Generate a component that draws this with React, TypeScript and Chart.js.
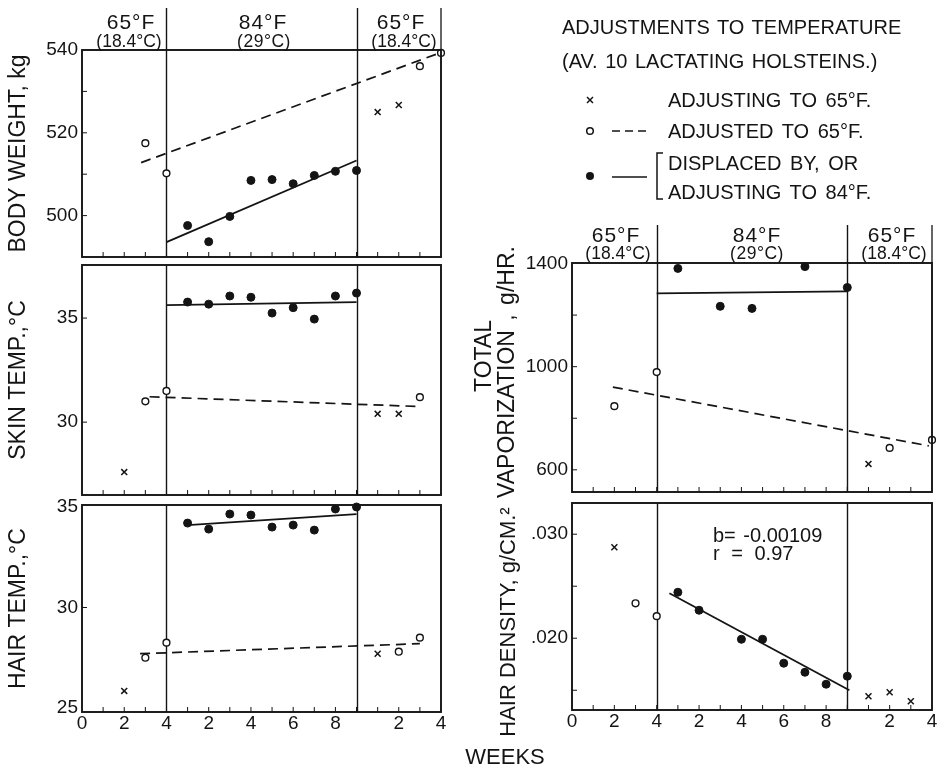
import React, { useEffect, useRef } from 'react';
import { Chart, registerables } from 'chart.js';

Chart.register(...registerables);

const FONT = '"Liberation Sans", Arial, sans-serif';
const INK = '#141414';

// ---- shared week axis ----
const weekTickValues = [0, 2, 4, 6, 8, 10, 12, 15, 17];
const weekTickLabels = ['0', '2', '4', '2', '4', '6', '8', '2', '4'];
const weekMarks = [1, 2, 3, 4, 5, 6, 7, 8, 9, 10, 11, 12, 13, 14, 15, 16];
const periodBounds = [4, 13];

// ---- body weight, kg ----
const bodyWeightCrossWeeks = [14, 15];
const bodyWeightCross = [525.0, 526.7];
const bodyWeightOpenWeeks = [3, 4, 16, 17];
const bodyWeightOpen = [517.5, 510.2, 536.1, 539.3];
const bodyWeightFilledWeeks = [5, 6, 7, 8, 9, 10, 11, 12, 13];
const bodyWeightFilled = [497.6, 493.7, 499.8, 508.5, 508.7, 507.7, 509.7, 510.7, 510.9];
const bodyWeightDashedWeeks = [2.8, 17];
const bodyWeightDashed = [512.8, 539.4];
const bodyWeightSolidWeeks = [4, 13];
const bodyWeightSolid = [493.6, 513.3];
const bodyWeightTicks = [500, 520, 540];
const bodyWeightTickLabels = ['500', '520', '540'];
const bodyWeightMinor = [500, 510, 520, 530];

// ---- skin temp, °C ----
const skinCrossWeeks = [2, 14, 15];
const skinCross = [27.6, 30.4, 30.4];
const skinOpenWeeks = [3, 4, 16];
const skinOpen = [31.0, 31.5, 31.2];
const skinFilledWeeks = [5, 6, 7, 8, 9, 10, 11, 12, 13];
const skinFilled = [35.77, 35.67, 36.06, 36.0, 35.24, 35.5, 34.95, 36.06, 36.2];
const skinDashedWeeks = [3.2, 16];
const skinDashed = [31.22, 30.75];
const skinSolidWeeks = [4, 13];
const skinSolid = [35.62, 35.77];
const skinTicks = [30, 35];
const skinTickLabels = ['30', '35'];
const skinMinor = [30, 35];

// ---- hair temp, °C ----
const hairCrossWeeks = [2, 14];
const hairCross = [25.85, 27.7];
const hairOpenWeeks = [3, 4, 15, 16];
const hairOpen = [27.5, 28.25, 27.8, 28.5];
const hairFilledWeeks = [5, 6, 7, 8, 9, 10, 11, 12, 13];
const hairFilled = [34.2, 33.9, 34.65, 34.6, 34.0, 34.1, 33.85, 34.9, 35.0];
const hairDashedWeeks = [2.75, 16];
const hairDashed = [27.7, 28.2];
const hairSolidWeeks = [5, 13];
const hairSolid = [34.1, 34.65];
const hairTicks = [25, 30, 35];
const hairTickLabels = ['25', '30', '35'];
const hairMinor = [30];

// ---- total vaporization, g/hr ----
const vapCrossWeeks = [14];
const vapCross = [623];
const vapOpenWeeks = [2, 4, 15, 17];
const vapOpen = [847, 979, 685, 716];
const vapFilledWeeks = [5, 7, 8.5, 11, 13];
const vapFilled = [1381, 1234, 1226, 1388, 1307];
const vapDashedWeeks = [1.93, 16.85];
const vapDashed = [921, 693];
const vapSolidWeeks = [4, 13];
const vapSolid = [1284, 1292];
const vapTicks = [600, 1000, 1400];
const vapTickLabels = ['600', '1000', '1400'];
const vapMinor = [600, 800, 1000, 1200];

// ---- hair density, g/cm² ----
const densCrossWeeks = [2, 14, 15, 16];
const densCross = [0.02875, 0.01442, 0.01481, 0.01394];
const densOpenWeeks = [3, 4];
const densOpen = [0.02336, 0.02212];
const densFilledWeeks = [5, 6, 8, 9, 10, 11, 12, 13];
const densFilled = [0.02442, 0.02269, 0.0199, 0.0199, 0.0176, 0.01673, 0.01558, 0.01635];
const densSolidWeeks = [4.6, 13.1];
const densSolid = [0.02433, 0.015];
const densTicks = [0.02, 0.03];
const densTickLabels = ['.020', '.030'];
const densMinor = [0.015, 0.02, 0.025, 0.03];

type Panel = {
  left: number; right: number; top: number; bottom: number; axisW: number;
  yMin: number; yMax: number; yTicks: number[]; yLabels: string[]; yMinor: number[];
  title?: string; showX: boolean; headerExt: number;
  cross: [number[], number[]]; open: [number[], number[]]; filled: [number[], number[]];
  dashed?: [number[], number[]]; solid?: [number[], number[]];
};

const panels: Panel[] = [
  {
    left: 82, right: 441, top: 50, bottom: 257, axisW: 82, yMin: 490, yMax: 540,
    yTicks: bodyWeightTicks, yLabels: bodyWeightTickLabels, yMinor: bodyWeightMinor,
    title: 'BODY WEIGHT, kg', showX: false, headerExt: 42,
    cross: [bodyWeightCrossWeeks, bodyWeightCross], open: [bodyWeightOpenWeeks, bodyWeightOpen],
    filled: [bodyWeightFilledWeeks, bodyWeightFilled], dashed: [bodyWeightDashedWeeks, bodyWeightDashed],
    solid: [bodyWeightSolidWeeks, bodyWeightSolid],
  },
  {
    left: 82, right: 441, top: 265, bottom: 495, axisW: 82, yMin: 26.5, yMax: 37.55,
    yTicks: skinTicks, yLabels: skinTickLabels, yMinor: skinMinor,
    title: 'SKIN TEMP.,°C', showX: false, headerExt: 0,
    cross: [skinCrossWeeks, skinCross], open: [skinOpenWeeks, skinOpen],
    filled: [skinFilledWeeks, skinFilled], dashed: [skinDashedWeeks, skinDashed],
    solid: [skinSolidWeeks, skinSolid],
  },
  {
    left: 82, right: 441, top: 505, bottom: 712, axisW: 82, yMin: 24.8, yMax: 35.1,
    yTicks: hairTicks, yLabels: hairTickLabels, yMinor: hairMinor,
    title: 'HAIR TEMP.,°C', showX: true, headerExt: 0,
    cross: [hairCrossWeeks, hairCross], open: [hairOpenWeeks, hairOpen],
    filled: [hairFilledWeeks, hairFilled], dashed: [hairDashedWeeks, hairDashed],
    solid: [hairSolidWeeks, hairSolid],
  },
  {
    left: 572, right: 932, top: 263, bottom: 492, axisW: 60, yMin: 514, yMax: 1402,
    yTicks: vapTicks, yLabels: vapTickLabels, yMinor: vapMinor,
    showX: false, headerExt: 38,
    cross: [vapCrossWeeks, vapCross], open: [vapOpenWeeks, vapOpen],
    filled: [vapFilledWeeks, vapFilled], dashed: [vapDashedWeeks, vapDashed],
    solid: [vapSolidWeeks, vapSolid],
  },
  {
    left: 572, right: 932, top: 503, bottom: 710, axisW: 60, yMin: 0.0131, yMax: 0.033,
    yTicks: densTicks, yLabels: densTickLabels, yMinor: densMinor,
    showX: true, headerExt: 0,
    cross: [densCrossWeeks, densCross], open: [densOpenWeeks, densOpen],
    filled: [densFilledWeeks, densFilled], solid: [densSolidWeeks, densSolid],
  },
];

const framePlugin = {
  id: 'frame',
  beforeDatasetsDraw(chart: any, _a: any, opts: any) {
    const { ctx, chartArea: a, scales } = chart;
    const x = scales.x;
    ctx.save();
    ctx.strokeStyle = INK;
    ctx.lineWidth = 1.4;
    for (const w of periodBounds) {
      const px = Math.round(x.getPixelForValue(w)) + 0.5;
      ctx.beginPath();
      ctx.moveTo(px, a.bottom);
      ctx.lineTo(px, a.top - (opts.headerExt || 0));
      ctx.stroke();
    }
    ctx.restore();
  },
  afterDatasetsDraw(chart: any, _a: any, opts: any) {
    const { ctx, chartArea: a, scales } = chart;
    const x = scales.x;
    const y = scales.y;
    ctx.save();
    ctx.strokeStyle = INK;
    ctx.lineWidth = 1.9;
    ctx.strokeRect(a.left, a.top, a.right - a.left, a.bottom - a.top);
    if (opts.headerExt) {
      ctx.lineWidth = 1.3;
      ctx.beginPath();
      ctx.moveTo(a.right, a.top);
      ctx.lineTo(a.right, a.top - opts.headerExt);
      ctx.stroke();
    }
    ctx.lineWidth = 1;
    for (const w of weekMarks) {
      const px = x.getPixelForValue(w);
      ctx.beginPath();
      ctx.moveTo(px, a.bottom);
      ctx.lineTo(px, a.bottom - 5);
      ctx.stroke();
    }
    for (const v of opts.yMinor || []) {
      const py = y.getPixelForValue(v);
      ctx.beginPath();
      ctx.moveTo(a.left, py);
      ctx.lineTo(a.left + 5, py);
      ctx.stroke();
    }
    ctx.restore();
  },
};

function pts(xs: number[], ys: number[]) {
  return xs.map((x, i) => ({ x, y: ys[i] }));
}

function buildConfig(p: Panel): any {
  const datasets: any[] = [
    {
      label: 'adjusting to 65°F', data: pts(p.cross[0], p.cross[1]),
      pointStyle: 'crossRot', pointRadius: 4.2, borderColor: INK, borderWidth: 1.5, backgroundColor: INK, showLine: false, clip: false,
    },
    {
      label: 'adjusted to 65°F', data: pts(p.open[0], p.open[1]),
      pointStyle: 'circle', pointRadius: 3.4, borderColor: INK, borderWidth: 1.4, backgroundColor: '#ffffff', showLine: false, clip: false,
    },
    {
      label: 'displaced by, or adjusting to 84°F', data: pts(p.filled[0], p.filled[1]),
      pointStyle: 'circle', pointRadius: 4, borderColor: INK, borderWidth: 1, backgroundColor: INK, showLine: false, clip: false,
    },
  ];
  if (p.dashed) {
    datasets.push({
      label: 'trend 65°F', data: pts(p.dashed[0], p.dashed[1]), showLine: true, pointRadius: 0,
      borderColor: INK, borderWidth: 1.7, borderDash: [10, 6], clip: false,
    });
  }
  if (p.solid) {
    datasets.push({
      label: 'trend 84°F', data: pts(p.solid[0], p.solid[1]), showLine: true, pointRadius: 0,
      borderColor: INK, borderWidth: 1.8, clip: false,
    });
  }
  const xH = p.showX ? 30 : 0;
  return {
    type: 'scatter',
    data: { datasets },
    options: {
      animation: false,
      responsive: false,
      maintainAspectRatio: false,
      devicePixelRatio: 1,
      events: [],
      layout: {
        padding: { left: p.left - p.axisW, right: 945 - p.right, top: p.top, bottom: 773 - p.bottom - xH },
      },
      plugins: {
        legend: { display: false },
        tooltip: { enabled: false },
        frame: { headerExt: p.headerExt, yMinor: p.yMinor },
      },
      scales: {
        x: {
          type: 'linear', min: 0, max: 17,
          afterBuildTicks: (s: any) => { s.ticks = weekTickValues.map((v) => ({ value: v })); },
          afterFit: (s: any) => { s.height = xH; },
          ticks: {
            display: p.showX, autoSkip: false, maxRotation: 0, minRotation: 0, padding: 0,
            color: INK, font: { family: FONT, size: 19 },
            callback: (_v: any, i: number) => weekTickLabels[i],
          },
          grid: { display: false, drawTicks: false },
          border: { display: false },
        },
        y: {
          type: 'linear', min: p.yMin, max: p.yMax,
          afterBuildTicks: (s: any) => { s.ticks = p.yTicks.map((v) => ({ value: v })); },
          afterFit: (s: any) => { s.width = p.axisW; },
          ticks: {
            padding: 4, color: INK, font: { family: FONT, size: 19 },
            callback: (_v: any, i: number) => p.yLabels[i],
          },
          grid: { display: false, drawTicks: false },
          border: { display: false },
          title: p.title
            ? { display: true, text: p.title, color: INK, font: { family: FONT, size: 23 }, padding: { top: 5, bottom: 0 } }
            : { display: false },
        },
      },
    },
    plugins: [framePlugin],
  };
}

function PanelCanvas({ p }: { p: Panel }) {
  const ref = useRef<HTMLCanvasElement | null>(null);
  useEffect(() => {
    const chart = new Chart(ref.current as HTMLCanvasElement, buildConfig(p));
    return () => chart.destroy();
  }, [p]);
  return (
    <canvas
      ref={ref}
      width={945}
      height={773}
      style={{ position: 'absolute', left: 0, top: 0, width: 945, height: 773 }}
    />
  );
}

function Txt(props: { x: number; y: number; size?: number; align?: string; rot?: boolean; ws?: number; ls?: number; children: any }) {
  const { x, y, size = 20, align = 'left', rot = false, ws = 0, ls = 0, children } = props;
  const tx = align === 'left' ? '0' : align === 'center' ? '-50%' : '-100%';
  return (
    <div
      style={{
        position: 'absolute', left: x, top: y, fontFamily: FONT, fontSize: size, lineHeight: 1,
        color: INK, whiteSpace: 'nowrap', wordSpacing: ws, letterSpacing: ls,
        transform: rot ? 'translate(-50%,-50%) rotate(-90deg)' : `translate(${tx},-50%)`,
      }}
    >
      {children}
    </div>
  );
}

export default function App() {
  return (
    <div style={{ position: 'absolute', left: 0, top: 0, width: 945, height: 773, background: '#fff', overflow: 'hidden' }}>
      {panels.map((p, i) => (
        <PanelCanvas key={i} p={p} />
      ))}

      {/* period headers, left column */}
      <Txt x={131} y={21} size={21} ls={1} align="center">65°F</Txt>
      <Txt x={129} y={42} size={17.5} align="center">(18.4°C)</Txt>
      <Txt x={263} y={21} size={21} ls={1} align="center">84°F</Txt>
      <Txt x={264} y={42} size={17.5} ls={0.5} align="center">(29°C)</Txt>
      <Txt x={401} y={21} size={21} ls={1} align="center">65°F</Txt>
      <Txt x={404} y={42} size={17.5} align="center">(18.4°C)</Txt>

      {/* period headers, right column */}
      <Txt x={616} y={234} size={21} ls={1} align="center">65°F</Txt>
      <Txt x={618} y={254} size={17.5} align="center">(18.4°C)</Txt>
      <Txt x={757} y={234} size={21} ls={1} align="center">84°F</Txt>
      <Txt x={757} y={254} size={17.5} ls={0.5} align="center">(29°C)</Txt>
      <Txt x={892} y={234} size={21} ls={1} align="center">65°F</Txt>
      <Txt x={894} y={254} size={17.5} align="center">(18.4°C)</Txt>

      {/* right column axis titles */}
      <Txt x={483} y={356} size={23} rot>TOTAL</Txt>
      <Txt x={506} y={372} size={23} rot ws={3}>VAPORIZATION , g/HR.</Txt>
      <Txt x={508} y={622} size={22} rot>HAIR DENSITY, g/CM.²</Txt>

      {/* regression annotation */}
      <Txt x={713} y={535} size={20} ws={2}>b= -0.00109</Txt>
      <Txt x={713} y={553} size={20} ws={6}>r =  0.97</Txt>

      {/* legend */}
      <Txt x={562} y={27} size={20} ws={2}>ADJUSTMENTS TO TEMPERATURE</Txt>
      <Txt x={562} y={61} size={20} ws={2}>(AV. 10 LACTATING HOLSTEINS.)</Txt>
      <Txt x={668} y={100} size={20} ws={3}>ADJUSTING TO 65°F.</Txt>
      <Txt x={668} y={131} size={20} ws={3}>ADJUSTED TO 65°F.</Txt>
      <Txt x={668} y={163} size={20} ws={3}>DISPLACED BY, OR</Txt>
      <Txt x={668} y={192} size={20} ws={3}>ADJUSTING TO 84°F.</Txt>
      <svg width={945} height={773} style={{ position: 'absolute', left: 0, top: 0, pointerEvents: 'none' }}>
        <g stroke={INK} strokeWidth={1.5} fill="none">
          <line x1={587} y1={97} x2={593} y2={103} />
          <line x1={587} y1={103} x2={593} y2={97} />
          <circle cx={590} cy={131} r={3.3} fill="#fff" />
          <line x1={612} y1={131} x2={647} y2={131} strokeDasharray="8 5" strokeWidth={1.7} />
          <line x1={612} y1={177} x2={647} y2={177} strokeWidth={1.7} />
          <polyline points="663,153 657,153 657,199 663,199" strokeWidth={1.5} />
        </g>
        <circle cx={590} cy={176} r={4} fill={INK} />
      </svg>

      <Txt x={505} y={757} size={22} align="center">WEEKS</Txt>
    </div>
  );
}
